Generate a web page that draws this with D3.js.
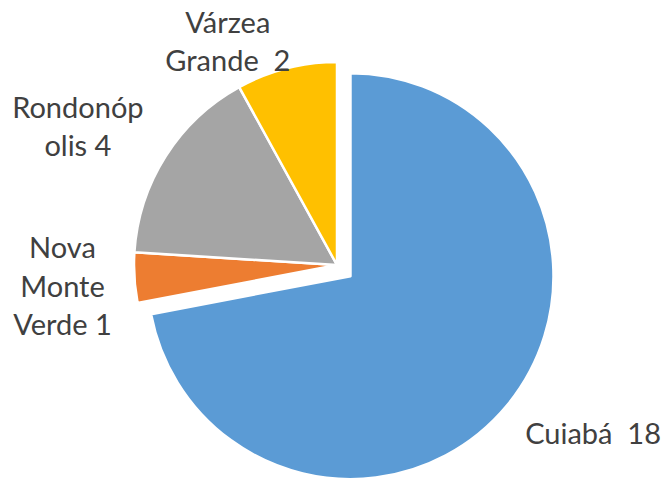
<!DOCTYPE html>
<html>
<head>
  <meta charset="utf-8">
  <title>Pie chart</title>
  <script src="https://cdn.jsdelivr.net/npm/d3@7/dist/d3.min.js"></script>
  <style>
    html, body { margin: 0; padding: 0; background: #fff; }
    text { font-family: Lato, "Open Sans", sans-serif; fill: #404040; white-space: pre; }
  </style>
</head>
<body>
  <div id="chart"></div>
  <script type="text/javascript">
  // data
  var categories = ["Cuiabá", "Nova Monte Verde", "Rondonópolis", "Várzea Grande"];
  var values = [18, 1, 4, 2];
  // wrapped label text as it appears in the chart
  var labelLines = [
    ["Cuiabá  18"],
    ["Nova", "Monte", "Verde 1"],
    ["Rondonóp", "olis 4"],
    ["Várzea", "Grande  2"]
  ];
  var colors = ["#5B9BD5", "#ED7D31", "#A5A5A5", "#FFC000"];

  var W = 662, H = 478;
  var cx = 337, cy = 265, radius = 203;
  var explodeIndex = 0, explodeDist = 17.5;
  var labelRadius = 250, lineH = 38.5;
  // best-fit label nudges (Excel places them around the pie)
  var nudge = [[50, -2], [-25, 6], [-48, -4], [-47, 19]];

  var svg = d3.select("#chart").append("svg")
    .attr("width", W)
    .attr("height", H);

  var pie = d3.pie().sort(null).value(function (d) { return d; });
  var arcs = pie(values);
  var arc = d3.arc().innerRadius(0).outerRadius(radius);

  function offset(d, i) {
    var a = (d.startAngle + d.endAngle) / 2;
    var dist = i === explodeIndex ? explodeDist : 0;
    return [cx + Math.sin(a) * dist, cy - Math.cos(a) * dist];
  }

  svg.selectAll("path.slice")
    .data(arcs)
    .enter()
    .append("path")
    .attr("class", "slice")
    .attr("transform", function (d, i) { var o = offset(d, i); return "translate(" + o[0] + "," + o[1] + ")"; })
    .attr("d", arc)
    .style("fill", function (d, i) { return colors[i]; })
    .style("stroke", "#fff")
    .style("stroke-width", 2.5)
    .style("stroke-linejoin", "round");

  // data labels
  var labels = svg.selectAll("text.lbl")
    .data(arcs)
    .enter()
    .append("text")
    .attr("class", "lbl")
    .style("font-size", "29px")
    .attr("text-anchor", "middle")
    .each(function (d, i) {
      var o = offset(d, i);
      var a = (d.startAngle + d.endAngle) / 2;
      var x = o[0] + Math.sin(a) * labelRadius + nudge[i][0];
      var y = o[1] - Math.cos(a) * labelRadius + nudge[i][1];
      var lines = labelLines[i];
      var first = y - (lines.length - 1) * lineH / 2 + 10;
      d3.select(this).selectAll("tspan")
        .data(lines)
        .enter()
        .append("tspan")
        .attr("x", x)
        .attr("y", function (t, j) { return first + j * lineH; })
        .text(function (t) { return t; });
    });
  </script>
</body>
</html>
